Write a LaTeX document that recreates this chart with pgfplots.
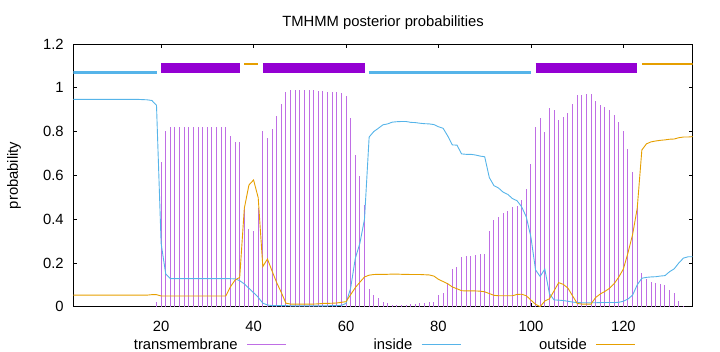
\documentclass[border=0pt]{standalone}
\usepackage{fontspec}
\setmainfont{Liberation Sans}
\usepackage{pgfplots}
\usepackage{pgfplotstable}
\pgfplotsset{compat=1.18}
\definecolor{tmcol}{RGB}{148,0,211}
\definecolor{tmimp}{RGB}{191,110,229}
\definecolor{incol}{RGB}{86,180,233}
\definecolor{outcol}{RGB}{230,159,0}
\pgfplotsset{mylegline/.style={legend image code/.code={\draw[##1] (0bp,0bp) -- (39bp,0bp);}}}

\pgfplotstableread{
x in out tm
1 0.947 0.053 0
2 0.947 0.053 0
3 0.947 0.053 0
4 0.947 0.053 0
5 0.947 0.053 0
6 0.947 0.053 0
7 0.947 0.053 0
8 0.947 0.053 0
9 0.947 0.053 0
10 0.947 0.053 0
11 0.947 0.053 0
12 0.947 0.053 0
13 0.947 0.053 0
14 0.947 0.053 0
15 0.947 0.053 0
16 0.946 0.053 0
17 0.945 0.053 0
18 0.942 0.055 0
19 0.920 0.055 0.023
20 0.289 0.049 0.662
21 0.149 0.049 0.802
22 0.128 0.049 0.822
23 0.128 0.049 0.822
24 0.128 0.049 0.822
25 0.128 0.049 0.822
26 0.128 0.049 0.822
27 0.128 0.049 0.822
28 0.128 0.049 0.822
29 0.128 0.049 0.822
30 0.128 0.049 0.822
31 0.128 0.049 0.822
32 0.128 0.049 0.822
33 0.128 0.049 0.822
34 0.128 0.049 0.822
35 0.128 0.091 0.781
36 0.127 0.122 0.751
37 0.119 0.134 0.751
38 0.104 0.450 0.446
39 0.084 0.556 0.353
40 0.064 0.579 0.347
41 0.043 0.498 0.452
42 0.016 0.183 0.803
43 0.008 0.218 0.772
44 0.005 0.163 0.813
45 0.005 0.110 0.873
46 0.005 0.065 0.926
47 0.005 0.016 0.982
48 0.004 0.012 0.990
49 0.004 0.012 0.990
50 0.004 0.012 0.990
51 0.004 0.012 0.990
52 0.004 0.012 0.990
53 0.004 0.012 0.988
54 0.004 0.013 0.987
55 0.004 0.015 0.985
56 0.004 0.015 0.982
57 0.005 0.016 0.979
58 0.005 0.017 0.979
59 0.006 0.020 0.977
60 0.015 0.023 0.962
61 0.085 0.055 0.863
62 0.220 0.087 0.693
63 0.290 0.112 0.598
64 0.400 0.136 0.464
65 0.775 0.144 0.081
66 0.800 0.147 0.053
67 0.815 0.148 0.038
68 0.831 0.148 0.021
69 0.835 0.148 0.018
70 0.843 0.149 0.008
71 0.845 0.149 0.006
72 0.846 0.148 0.006
73 0.846 0.148 0.006
74 0.842 0.147 0.011
75 0.841 0.147 0.012
76 0.838 0.147 0.015
77 0.836 0.146 0.018
78 0.835 0.145 0.021
79 0.832 0.140 0.021
80 0.822 0.125 0.053
81 0.815 0.115 0.061
82 0.780 0.105 0.104
83 0.739 0.090 0.171
84 0.738 0.082 0.180
85 0.698 0.073 0.229
86 0.696 0.072 0.232
87 0.696 0.072 0.232
88 0.693 0.072 0.235
89 0.688 0.071 0.241
90 0.685 0.068 0.242
91 0.590 0.060 0.346
92 0.553 0.052 0.395
93 0.542 0.050 0.408
94 0.523 0.050 0.427
95 0.513 0.050 0.437
96 0.494 0.050 0.456
97 0.484 0.056 0.460
98 0.456 0.057 0.487
99 0.410 0.050 0.539
100 0.318 0.030 0.652
101 0.168 0.011 0.821
102 0.138 0.000 0.862
103 0.172 0.026 0.800
104 0.060 0.036 0.906
105 0.031 0.072 0.897
106 0.030 0.110 0.853
107 0.028 0.102 0.865
108 0.025 0.085 0.885
109 0.021 0.050 0.926
110 0.019 0.015 0.967
111 0.018 0.012 0.967
112 0.018 0.012 0.970
113 0.018 0.012 0.970
114 0.018 0.042 0.940
115 0.019 0.058 0.923
116 0.019 0.070 0.911
117 0.019 0.084 0.897
118 0.019 0.105 0.876
119 0.020 0.135 0.845
120 0.025 0.172 0.803
121 0.035 0.246 0.719
122 0.053 0.330 0.617
123 0.100 0.450 0.460
124 0.130 0.716 0.155
125 0.134 0.744 0.128
126 0.136 0.753 0.113
127 0.137 0.757 0.108
128 0.140 0.760 0.102
129 0.142 0.762 0.098
130 0.160 0.765 0.076
131 0.173 0.766 0.061
132 0.200 0.772 0.027
133 0.222 0.775 0.003
134 0.228 0.775 0.000
135 0.228 0.777 0.000
}\tmdata

\begin{document}
\begin{tikzpicture}[font=\fontsize{14.8bp}{17bp}\selectfont]
\path[use as bounding box] (-73.3bp,-45.3bp) rectangle (646.7bp,306.7bp);
\begin{axis}[
  at={(0,0)}, anchor=south west,
  scale only axis, width=619.4bp, height=262.7bp,
  xmin=1, xmax=135, ymin=0, ymax=1.2,
  xtick={20,40,60,80,100,120},
  ytick={0,0.2,0.4,0.6,0.8,1,1.2},
  tick align=inside, major tick length=4bp,
  /pgf/number format/assume math mode=true,
  axis line style={black, line width=0.9bp},
  tick style={black, line width=0.7bp},
  xticklabel style={anchor=base, yshift=-25bp, inner sep=0pt},
  yticklabel style={anchor=east, xshift=-9.5bp, inner sep=0pt},
  title={TMHMM posterior probabilities},
  title style={at={(0.5,1)}, anchor=base, yshift=11.7bp, inner sep=0pt},
  ylabel={probability},
  ylabel style={at={(axis description cs:-0.0957,0.5)}, anchor=center, inner sep=0pt},
  legend columns=3, legend plot pos=right,
  legend style={draw=none, fill=none, at={(axis description cs:0.4852,-0.144)}, anchor=center, inner sep=0pt, nodes={inner sep=0pt}},
]
\addplot[ycomb, draw=tmimp, line width=1bp, forget plot] table[x=x, y=tm]{\tmdata};
\addplot[incol, line width=0.9bp, forget plot] table[x=x, y=in]{\tmdata};
\addplot[outcol, line width=0.9bp, forget plot] table[x=x, y=out]{\tmdata};
% topology bars
\addplot[incol, line width=3bp, forget plot] coordinates {(1,1.072) (19,1.072)};
\addplot[incol, line width=3bp, forget plot] coordinates {(65,1.072) (100,1.072)};
\addplot[tmcol, line width=9.4bp, forget plot] coordinates {(20,1.0905) (37,1.0905)};
\addplot[tmcol, line width=9.4bp, forget plot] coordinates {(42,1.0905) (64,1.0905)};
\addplot[tmcol, line width=9.4bp, forget plot] coordinates {(101,1.0905) (123,1.0905)};
\addplot[outcol, line width=2.3bp, forget plot] coordinates {(38,1.110) (41,1.110)};
\addplot[outcol, line width=2.3bp, forget plot] coordinates {(124,1.110) (135,1.110)};
% legend
\addlegendimage{mylegline, draw=tmimp, line width=1bp}
\addlegendentry{\makebox[134.7bp][r]{transmembrane\hspace{9bp}}}
\addlegendimage{mylegline, draw=incol, line width=0.9bp}
\addlegendentry{\makebox[134.7bp][r]{inside\hspace{9bp}}}
\addlegendimage{mylegline, draw=outcol, line width=0.9bp}
\addlegendentry{\makebox[134.7bp][r]{outside\hspace{9bp}}}
\end{axis}
\end{tikzpicture}
\end{document}
